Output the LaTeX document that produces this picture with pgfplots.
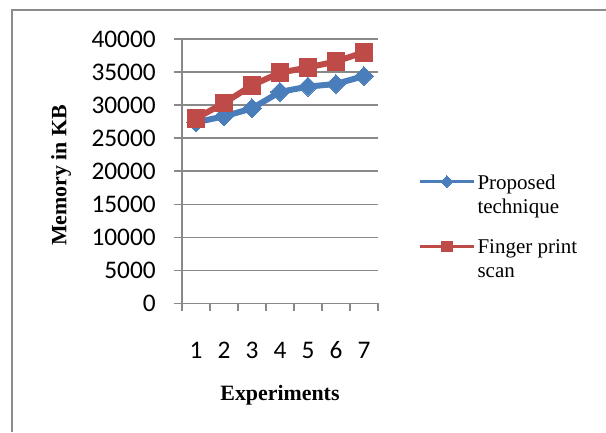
\documentclass[border=0pt]{standalone}
\usepackage{pgfplots}
\pgfplotsset{compat=1.18}
\usepackage{fontspec}
\setmainfont{Liberation Serif}
\newfontfamily\tickfont{Carlito}

\definecolor{serA}{HTML}{4A7EBB}
\definecolor{serB}{HTML}{BE4B48}
\definecolor{gridgray}{HTML}{898989}
\definecolor{framegray}{HTML}{8C8C8C}

\begin{document}
\begin{tikzpicture}[x=0.75pt,y=-0.75pt]
  % page area and outer chart frame
  \path[use as bounding box] (0,0) rectangle (606,432);
  \draw[framegray, line width=1.6pt] (12,432) -- (12,10) -- (606,10);

  \begin{axis}[
    at={(136.5pt,-227.55pt)}, anchor=south west,
    scale only axis, width=147pt, height=198.3pt,
    xmin=0.5, xmax=7.5, ymin=0, ymax=40000,
    axis x line=bottom, axis y line=left,
    axis line style={gridgray, line width=1.1pt, -},
    xtick={0.5,1.5,...,7.5}, xticklabels={},
    extra x ticks={1,2,3,4,5,6,7},
    extra x tick labels={1,2,3,4,5,6,7},
    extra x tick style={major tick length=0pt,
      xticklabel style={anchor=center, yshift=-35pt}},
    ytick={0,5000,...,40000},
    scaled y ticks=false,
    tick align=outside, major tick length=6pt,
    tick style={gridgray, line width=1.1pt},
    ymajorgrids, grid style={gridgray, line width=1.1pt},
    /pgf/number format/assume math mode=true,
    /pgf/number format/set thousands separator={},
    ticklabel style={font=\tickfont\fontsize{19}{22}\selectfont, text=black},
    yticklabel style={anchor=east, inner sep=0pt, xshift=-13.5pt},
    xlabel={Experiments},
    ylabel={Memory in KB},
    label style={font=\bfseries\fontsize{16.4}{19}\selectfont},
    xlabel style={at={(axis description cs:0.5,-0.346)}, anchor=center},
    ylabel style={at={(axis description cs:-0.617,0.484)}, anchor=center},
    clip=false,
    legend style={at={(axis description cs:1.204,0.497)}, anchor=north west,
      draw=none, fill=none, inner sep=0pt, row sep=34.5pt, column sep=0pt,
      font=\fontsize{15.75}{18}\selectfont,
      nodes={inner sep=0pt}},
    legend cell align=left,
    legend image code/.code={%
      \draw[#1, line width=2.4pt, mark repeat=2, mark phase=2,
            every mark/.append style={scale=0.62}]
        plot coordinates {(0pt,0pt) (20.25pt,0pt) (40.5pt,0pt)};
      \path (41pt,0pt);
    },
  ]
    \addplot[serA, line width=4.5pt, mark=square*, mark size=5pt,
             mark options={rotate=45, line width=0pt}]
      coordinates {(1,27400) (2,28300) (3,29500) (4,32000) (5,32800) (6,33200) (7,34400)};
    \addlegendentry{\begin{tabular}[t]{@{}l@{}}Proposed\\technique\end{tabular}}
    \addplot[serB, line width=4.5pt, mark=square*, mark size=6.6pt,
             mark options={line width=0pt}]
      coordinates {(1,28000) (2,30300) (3,33000) (4,34900) (5,35700) (6,36600) (7,38000)};
    \addlegendentry{\begin{tabular}[t]{@{}l@{}}Finger print\\scan\end{tabular}}
  \end{axis}
\end{tikzpicture}
\end{document}
